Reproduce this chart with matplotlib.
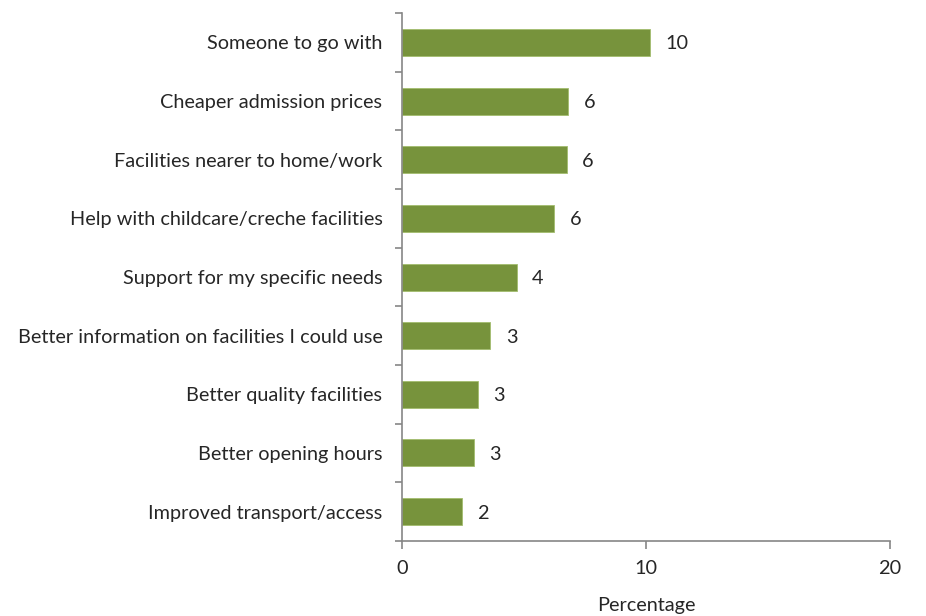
import matplotlib
matplotlib.use('Agg')
import matplotlib.pyplot as plt
import numpy as np

categories = [
    'Someone to go with',
    'Cheaper admission prices',
    'Facilities nearer to home/work',
    'Help with childcare/creche facilities',
    'Support for my specific needs',
    'Better information on facilities I could use',
    'Better quality facilities',
    'Better opening hours',
    'Improved transport/access',
]
values = [10.16, 6.82, 6.76, 6.25, 4.70, 3.63, 3.13, 2.95, 2.46]
value_labels = ['10', '6', '6', '6', '4', '3', '3', '3', '2']
x_ticks = [0, 10, 20]

plt.rcParams['font.family'] = ['Lato', 'DejaVu Sans']
FS = 14.3

fig = plt.figure(figsize=(9.26, 6.16), dpi=100)
ax = fig.add_axes([0.434, 0.1218, 0.527, 0.857])

pos = np.arange(len(categories))[::-1]
ax.barh(pos, values, height=0.46, color='#77933C', edgecolor='#A3BD6E', linewidth=0.6)

for p, v, lab in zip(pos, values, value_labels):
    ax.annotate(lab, (v, p), xytext=(11, -1), textcoords='offset points',
                ha='left', va='center', fontsize=FS, color='#262626')

ax.set_xlim(0, 20)
ax.set_ylim(-0.5, len(categories) - 0.5)
ax.set_xticks(x_ticks)
ax.set_xticklabels([str(t) for t in x_ticks], fontsize=FS, color='#262626')

ax.set_yticks(pos)
ax.set_yticklabels(categories, fontsize=FS, color='#262626')
ax.set_yticks(np.arange(-0.5, len(categories), 1), minor=True)
ax.tick_params(axis='y', which='major', length=0, pad=14)
ax.tick_params(axis='y', which='minor', length=5, width=1.2, color='#868686', direction='out')
ax.tick_params(axis='x', length=6, width=1.2, color='#868686', direction='out', pad=8)

for s in ['top', 'right']:
    ax.spines[s].set_visible(False)
for s in ['left', 'bottom']:
    ax.spines[s].set_color('#868686')
    ax.spines[s].set_linewidth(1.2)

ax.set_xlabel('Percentage', fontsize=FS, color='#262626', labelpad=14)

fig.savefig('out.png', dpi=100)
